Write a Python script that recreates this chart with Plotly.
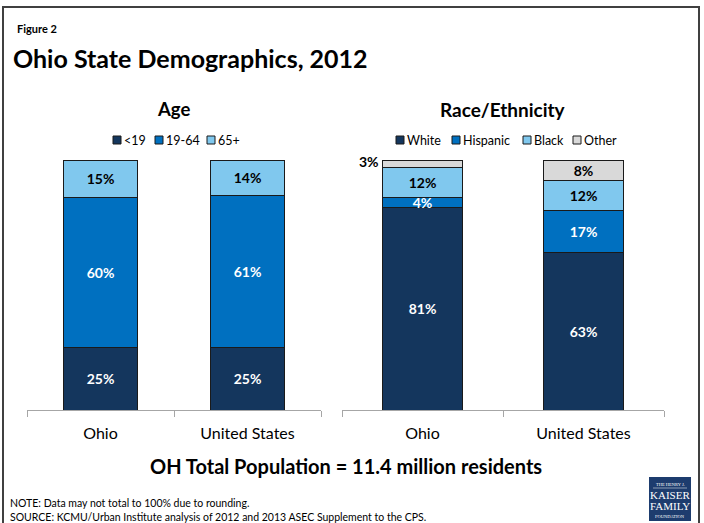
import plotly.graph_objects as go

# ---- data -------------------------------------------------------------
places = ["Ohio", "United States"]

age_groups = ["<19", "19-64", "65+"]
age_values = {
    "<19": [25, 25],
    "19-64": [60, 61],
    "65+": [15, 14],
}

race_groups = ["White", "Hispanic", "Black", "Other"]
race_values = {
    "White": [81, 63],
    "Hispanic": [4, 17],
    "Black": [12, 12],
    "Other": [3, 8],
}

# ---- styling ----------------------------------------------------------
W, H = 704, 523
FONT = "Lato"
colors = {
    "<19": "#14365D", "19-64": "#0070C0", "65+": "#80C8EE",
    "White": "#14365D", "Hispanic": "#0070C0", "Black": "#80C8EE", "Other": "#D9D9D9",
}
label_colors = {
    "<19": "white", "19-64": "white", "65+": "black",
    "White": "white", "Hispanic": "white", "Black": "black", "Other": "black",
}


def px(x):
    return x / W


def py(y):
    return 1 - y / H


fig = go.Figure()


def add_stack(groups, values, xa, ya, hidden_small=None):
    for g in groups:
        vals = values[g]
        pos = ["inside"] * len(vals)
        if hidden_small:
            for (grp, idx) in hidden_small:
                if grp == g:
                    pos[idx] = "none"
        fig.add_trace(go.Bar(
            x=places, y=vals, name=g,
            xaxis=xa, yaxis=ya,
            marker=dict(color=colors[g], line=dict(color="#1a1a1a", width=1)),
            text=[f"{v}%" for v in vals],
            textposition=pos,
            insidetextanchor="middle",
            constraintext="none",
            textfont=dict(family=FONT, size=14, color=label_colors[g], weight="bold"),
            showlegend=False,
            hoverinfo="skip",
        ))


add_stack(age_groups, age_values, "x", "y")
add_stack(race_groups, race_values, "x2", "y2", hidden_small=[("Other", 0)])

axis_common = dict(
    type="category", showline=True, linecolor="#A6A6A6", linewidth=1,
    ticks="outside", tickson="boundaries", ticklen=6, tickcolor="#A6A6A6",
    ticklabelstandoff=9,
    tickfont=dict(family=FONT, size=16, color="#000000"),
    showgrid=False, zeroline=False, fixedrange=True,
)
yaxis_common = dict(range=[0, 100], visible=False, domain=[py(410), py(160)])

fig.update_layout(
    width=W, height=H,
    margin=dict(l=0, r=0, t=0, b=0),
    paper_bgcolor="white", plot_bgcolor="white",
    barmode="stack", bargap=0.5,
    showlegend=False,
    xaxis=dict(domain=[px(27), px(321)], anchor="y", **axis_common),
    yaxis=yaxis_common,
    xaxis2=dict(domain=[px(342), px(664)], anchor="y2", **axis_common),
    yaxis2=dict(anchor="x2", **yaxis_common),
    font=dict(family=FONT, color="#000000"),
)

annotations = []
shapes = []


def text(x, y, s, size, bold=False, anchor="left", color="#000000", family=FONT):
    annotations.append(dict(
        x=px(x), y=py(y), xref="paper", yref="paper", text=s, showarrow=False,
        xanchor=anchor, yanchor="middle",
        font=dict(family=family, size=size, color=color, weight="bold" if bold else "normal"),
    ))


# outer frame
shapes.append(dict(type="rect", xref="paper", yref="paper",
                   x0=px(3), x1=px(699), y0=-0.05, y1=py(7),
                   line=dict(color="#404040", width=2)))

# headings
text(15, 29, "Figure 2", 11, bold=True)
text(11, 58, "Ohio State Demographics, 2012", 25, bold=True)
text(173, 109, "Age", 18.5, bold=True, anchor="center")
text(503, 109, "Race/Ethnicity", 19, bold=True, anchor="center")

# hand-built compact legends
def legend(groups, starts, y=140):
    for g, x0 in zip(groups, starts):
        shapes.append(dict(type="rect", xref="paper", yref="paper",
                           x0=px(x0), x1=px(x0 + 8), y0=py(y + 4), y1=py(y - 4),
                           fillcolor=colors[g], line=dict(color="#1a1a1a", width=1)))
        text(x0 + 9, y, g, 12.5)


legend(age_groups, [113, 155, 207])
legend(race_groups, [396, 452, 523, 573])

# small "Other" value for Ohio sits beside its bar
ohio_other = race_values["Other"][0]
annotations.append(dict(
    x=-0.25, y=100 - ohio_other / 2, xref="x2", yref="y2",
    text=f"{ohio_other}%", showarrow=False, xanchor="right", yanchor="middle",
    xshift=-1, yshift=2,
    font=dict(family=FONT, size=14, color="black", weight="bold"),
))

# footer
text(346, 466, "OH Total Population = 11.4 million residents", 20, bold=True, anchor="center")
text(8, 503, "NOTE: Data may not total to 100% due to rounding.", 10.5)
text(8, 517, "SOURCE: KCMU/Urban Institute analysis of 2012 and 2013 ASEC Supplement to the CPS.", 10.5)

# foundation badge
shapes.append(dict(type="rect", xref="paper", yref="paper",
                   x0=px(649), x1=px(691), y0=py(521), y1=py(477),
                   fillcolor="#1D3C6E", line=dict(width=0)))
shapes.append(dict(type="line", xref="paper", yref="paper",
                   x0=px(653), x1=px(687), y0=py(488), y1=py(488),
                   line=dict(color="white", width=0.5)))
text(670, 484, "THE HENRY J.", 4.5, anchor="center", color="white", family="Liberation Serif")
text(670, 495, "KAISER", 11, anchor="center", color="white", family="Liberation Serif")
text(670, 506, "FAMILY", 11, anchor="center", color="white", family="Liberation Serif")
text(670, 516, "FOUNDATION", 4.5, anchor="center", color="white", family="Liberation Serif")

fig.update_layout(annotations=annotations, shapes=shapes)

fig.write_html("out.html")
